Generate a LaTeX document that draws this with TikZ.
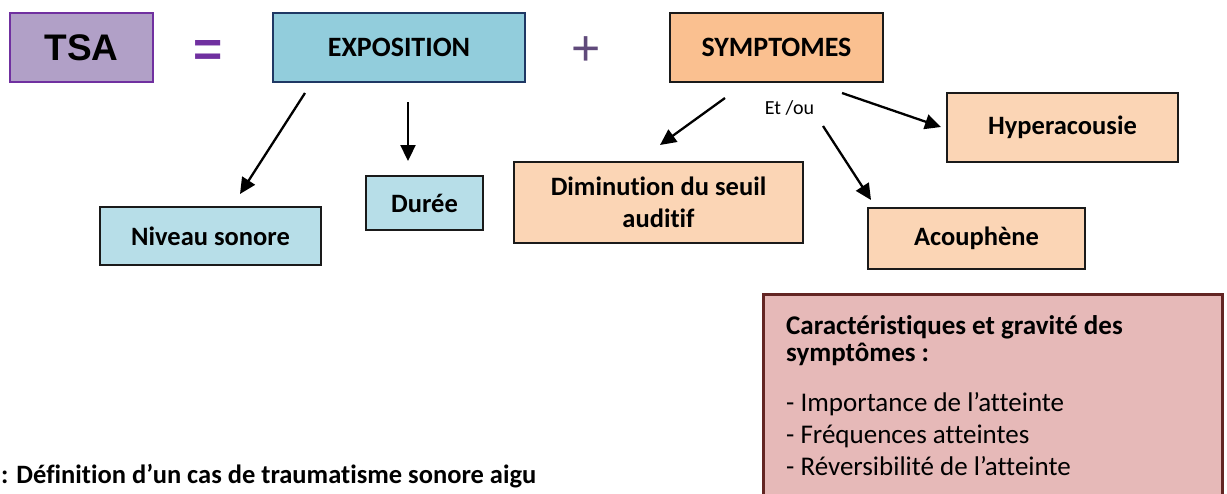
\documentclass[tikz,border=0pt]{standalone}
\usepackage{fontspec}
\setmainfont{Carlito}[Ligatures={NoCommon,NoContextual}]
\newfontfamily\arialfont{Liberation Sans}
\usetikzlibrary{arrows.meta}
\definecolor{tsafill}{HTML}{B1A0C7}
\definecolor{tsaline}{HTML}{7030A0}
\definecolor{expfill}{HTML}{92CDDC}
\definecolor{expline}{HTML}{1F3864}
\definecolor{symfill}{HTML}{FAC090}
\definecolor{lightor}{HTML}{FBD5B5}
\definecolor{lightbl}{HTML}{B7DEE8}
\definecolor{pinkfill}{HTML}{E6B9B8}
\definecolor{pinkline}{HTML}{632523}
\definecolor{plusc}{HTML}{604A7B}
\definecolor{boxline}{HTML}{1A1A1A}
\begin{document}
\begin{tikzpicture}[x=1pt,y=-1pt,
  box/.style={draw=boxline, line width=1.8pt, inner sep=0pt, align=center},
  toplabel/.style={font=\bfseries\fontsize{28}{32}\selectfont},
  lowlabel/.style={font=\bfseries\fontsize{26.5}{32}\selectfont},
  arr/.style={line width=2.3pt, -{Triangle[length=16pt,width=15pt]}},
  listline/.style={anchor=base west, inner sep=0pt, font=\fontsize{27}{31}\selectfont},
  headline/.style={anchor=base west, inner sep=0pt, font=\bfseries\fontsize{27}{27}\selectfont}]
\useasboundingbox (0,0) rectangle (1227,493);
% top row
\node[box, draw=tsaline, fill=tsafill, minimum width=143pt, minimum height=69pt,
      font=\arialfont\bfseries\fontsize{37}{40}\selectfont] (tsa) at (81.5,47.5) {TSA};
\node[text=tsaline, inner sep=0pt, font=\arialfont\bfseries\fontsize{50}{50}\selectfont] (eq) at (208.5,53.5) {=};
\node[box, draw=expline, fill=expfill, minimum width=252pt, minimum height=69pt, toplabel] (expo) at (399,47.5) {EXPOSITION};
\node[text=plusc, inner sep=0pt, font=\arialfont\fontsize{50}{50}\selectfont] (plus) at (586.5,51) {+};
\node[box, fill=symfill, minimum width=213pt, minimum height=69pt, toplabel] (symp) at (776.5,47.5) {SYMPTOMES};
% exposition children
\node[box, fill=lightbl, minimum width=221pt, minimum height=58pt, lowlabel] (niveau) at (210.5,236) {Niveau sonore};
\node[box, fill=lightbl, minimum width=117pt, minimum height=54pt, lowlabel] (duree) at (424.5,203) {Durée};
% symptom children
\node[box, fill=lightor, minimum width=289pt, minimum height=81pt, lowlabel] (dimin) at (658.5,202.5) {Diminution du seuil\\auditif};
\node[box, fill=lightor, minimum width=231pt, minimum height=69pt, lowlabel] (hyper) at (1062.5,127.5) {Hyperacousie};
\node[box, fill=lightor, minimum width=217pt, minimum height=61pt, lowlabel] (acou) at (976.5,238.5) {Acouphène};
\node[inner sep=0pt, font=\fontsize{20}{24}\selectfont] (etou) at (789.5,108) {Et /ou};
% arrows
\coordinate (a1s) at (305,93);  \coordinate (a1e) at (240,194);
\coordinate (a2s) at (408,102); \coordinate (a2e) at (408,161);
\coordinate (a3s) at (725,98);  \coordinate (a3e) at (660,145);
\coordinate (a4s) at (842,93);  \coordinate (a4e) at (941,127);
\coordinate (a5s) at (823,126); \coordinate (a5e) at (871,200);
\draw[arr] (a1s) -- (a1e);
\draw[arr] (a2s) -- (a2e);
\draw[arr] (a3s) -- (a3e);
\draw[arr] (a4s) -- (a4e);
\draw[arr] (a5s) -- (a5e);
% characteristics box
\node[draw=pinkline, line width=3pt, fill=pinkfill, minimum width=459pt, minimum height=212pt, inner sep=0pt] (carac) at (992.5,400) {};
\node[headline] (c1) at (786,334) {Caractéristiques et gravité des};
\node[headline] (c2) at (786,361.5) {symptômes :};
\node[listline] (c3) at (786,411.5) {- Importance de l’atteinte};
\node[listline] (c4) at (786,443) {- Fréquences atteintes};
\node[listline] (c5) at (786,475) {- Réversibilité de l’atteinte};
% caption
\node[anchor=base west, inner sep=0pt, font=\bfseries\fontsize{26.5}{30}\selectfont] (caption) at (1,483) {: Définition d’un cas de traumatisme sonore aigu};
\end{tikzpicture}
\end{document}
